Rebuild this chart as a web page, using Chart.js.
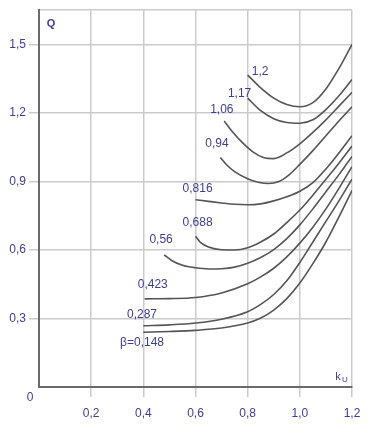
<!DOCTYPE html>
<html>
<head>
<meta charset="utf-8">
<script src="https://cdn.jsdelivr.net/npm/chart.js@4.4.0/dist/chart.umd.min.js"></script>
<style>
  html, body { margin: 0; padding: 0; background: #fff; }
</style>
</head>
<body>
<canvas id="chart" width="392" height="437"></canvas>
<script>
// curve data: k_U along x, Q along y, one pair of arrays per beta
const x148 = [0.4, 0.5, 0.6, 0.7, 0.8, 0.85, 0.9, 0.95, 1.0, 1.05, 1.1, 1.15, 1.2];
const q148 = [0.24, 0.243, 0.248, 0.258, 0.28, 0.302, 0.337, 0.387, 0.455, 0.54, 0.635, 0.745, 0.86];

const x287 = [0.4, 0.5, 0.6, 0.7, 0.8, 0.85, 0.9, 0.95, 1.0, 1.05, 1.1, 1.15, 1.2];
const q287 = [0.268, 0.272, 0.28, 0.297, 0.33, 0.362, 0.405, 0.465, 0.545, 0.635, 0.725, 0.815, 0.91];

const x423 = [0.405, 0.5, 0.6, 0.7, 0.8, 0.85, 0.9, 0.95, 1.0, 1.05, 1.1, 1.15, 1.2];
const q423 = [0.386, 0.387, 0.392, 0.412, 0.452, 0.482, 0.52, 0.57, 0.63, 0.7, 0.78, 0.87, 0.965];

const x560 = [0.48, 0.51, 0.55, 0.6, 0.65, 0.7, 0.75, 0.8, 0.85, 0.9, 0.95, 1.0, 1.05, 1.1, 1.15, 1.2];
const q560 = [0.578, 0.553, 0.533, 0.522, 0.517, 0.518, 0.525, 0.542, 0.567, 0.602, 0.65, 0.71, 0.78, 0.855, 0.93, 1.01];

const x688 = [0.6, 0.62, 0.65, 0.7, 0.75, 0.8, 0.85, 0.9, 0.95, 1.0, 1.05, 1.1, 1.15, 1.2];
const q688 = [0.66, 0.632, 0.613, 0.601, 0.6, 0.61, 0.635, 0.67, 0.72, 0.775, 0.84, 0.91, 0.98, 1.055];

const x816 = [0.6, 0.65, 0.7, 0.75, 0.8, 0.85, 0.9, 0.95, 1.0, 1.05, 1.1, 1.15, 1.2];
const q816 = [0.82, 0.813, 0.806, 0.8, 0.798, 0.802, 0.815, 0.833, 0.857, 0.895, 0.955, 1.025, 1.1];

const x940 = [0.695, 0.72, 0.75, 0.8, 0.84, 0.88, 0.92, 0.96, 1.0, 1.05, 1.1, 1.15, 1.2];
const q940 = [1.005, 0.972, 0.943, 0.912, 0.897, 0.891, 0.9, 0.93, 0.975, 1.035, 1.1, 1.165, 1.227];

const x1060 = [0.71, 0.74, 0.78, 0.82, 0.86, 0.9, 0.95, 1.0, 1.05, 1.1, 1.15, 1.2];
const q1060 = [1.165, 1.12, 1.07, 1.03, 1.005, 1.0, 1.025, 1.065, 1.115, 1.17, 1.23, 1.29];

const x1170 = [0.8, 0.85, 0.9, 0.95, 1.0, 1.05, 1.1, 1.15, 1.2];
const q1170 = [1.265, 1.21, 1.175, 1.158, 1.155, 1.17, 1.215, 1.275, 1.347];

const x1200 = [0.8, 0.85, 0.9, 0.95, 1.0, 1.05, 1.1, 1.15, 1.2];
const q1200 = [1.366, 1.31, 1.265, 1.237, 1.227, 1.245, 1.305, 1.395, 1.5];

// curve labels and where they sit (data units)
const betaLabels = ['β=0,148', '0,287', '0,423', '0,56', '0,688', '0,816', '0,94', '1,06', '1,17', '1,2'];
const labelX = [0.395, 0.395, 0.436, 0.468, 0.608, 0.608, 0.682, 0.701, 0.769, 0.848];
const labelQ = [0.195, 0.315, 0.45, 0.644, 0.72, 0.867, 1.064, 1.216, 1.286, 1.38];

const xTicks = [0, 0.2, 0.4, 0.6, 0.8, 1.0, 1.2];
const yTicks = [0, 0.3, 0.6, 0.9, 1.2, 1.5, 1.65];

const curvesX = [x148, x287, x423, x560, x688, x816, x940, x1060, x1170, x1200];
const curvesQ = [q148, q287, q423, q560, q688, q816, q940, q1060, q1170, q1200];

const textColor = '#3d3d96';
const fontFam = '"Liberation Sans", Arial, sans-serif';

const datasets = curvesX.map((xs, i) => ({
    label: betaLabels[i],
    data: xs.map((x, j) => ({ x: x, y: curvesQ[i][j] })),
    borderColor: '#555555',
    borderWidth: 1.6,
    pointRadius: 0,
    fill: false,
    cubicInterpolationMode: 'monotone'
}));

const fmt = v => v.toFixed(1).replace('.', ',');

// draws the curve labels, axis names and the corner zero
const labelsPlugin = {
    id: 'labels',
    afterDatasetsDraw(chart) {
        const { ctx, scales } = chart;
        ctx.save();
        ctx.fillStyle = textColor;
        ctx.font = '12px ' + fontFam;
        ctx.textAlign = 'center';
        ctx.textBaseline = 'middle';
        betaLabels.forEach((t, i) => {
            ctx.fillText(t, scales.x.getPixelForValue(labelX[i]), scales.y.getPixelForValue(labelQ[i]));
        });
        ctx.fillText('0', 30, 398);
        ctx.font = 'bold 11px ' + fontFam;
        ctx.fillText('Q', 51, 24);
        ctx.font = '11px ' + fontFam;
        ctx.fillText('k', 338, 377);
        ctx.font = '8px ' + fontFam;
        ctx.fillText('U', 345, 380);
        ctx.restore();
    }
};

new Chart(document.getElementById('chart'), {
    type: 'line',
    data: { datasets: datasets },
    plugins: [labelsPlugin],
    options: {
        responsive: false,
        animation: false,
        layout: { padding: { top: 10, right: 40, left: 0, bottom: 0 } },
        plugins: {
            legend: { display: false },
            tooltip: { enabled: false }
        },
        scales: {
            x: {
                type: 'linear',
                min: 0,
                max: 1.2,
                afterBuildTicks: s => { s.ticks = xTicks.map(v => ({ value: v })); },
                afterFit: s => { s.height = 50; },
                ticks: {
                    color: textColor,
                    font: { size: 12, family: fontFam },
                    padding: 9,
                    maxRotation: 0,
                    callback: v => v === 0 ? '' : fmt(v)
                },
                grid: {
                    color: '#cbcbcb',
                    lineWidth: 1.5,
                    tickLength: 10,
                    tickColor: c => c.tick && c.tick.value === 0 ? 'rgba(0,0,0,0)' : '#cbcbcb'
                },
                border: { color: '#6a6a6a', width: 2 }
            },
            y: {
                type: 'linear',
                min: 0,
                max: 1.65,
                afterBuildTicks: s => { s.ticks = yTicks.map(v => ({ value: v })); },
                afterFit: s => { s.width = 39; },
                ticks: {
                    color: textColor,
                    font: { size: 12, family: fontFam },
                    padding: 3,
                    callback: v => (v === 0 || v > 1.6) ? '' : fmt(v)
                },
                grid: {
                    color: '#cbcbcb',
                    lineWidth: 1.5,
                    tickLength: 10,
                    tickColor: c => c.tick && (c.tick.value === 0 || c.tick.value > 1.6) ? 'rgba(0,0,0,0)' : '#cbcbcb'
                },
                border: { color: '#6a6a6a', width: 2 }
            }
        }
    }
});
</script>
</body>
</html>
